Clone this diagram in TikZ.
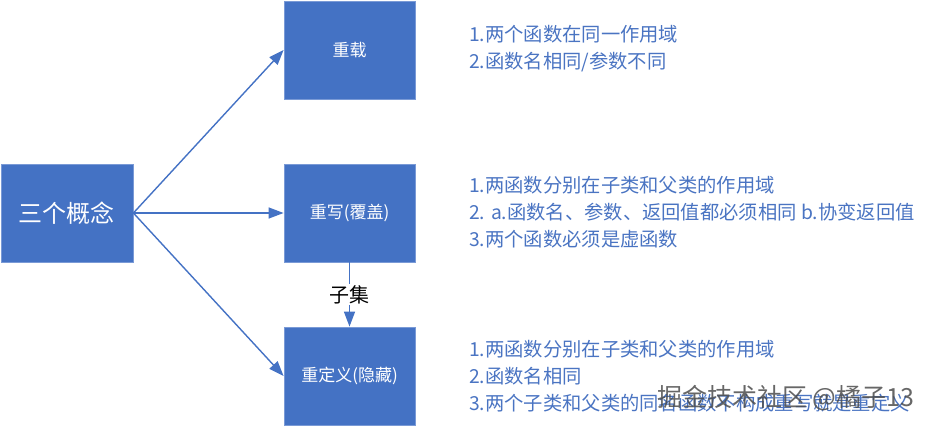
\documentclass[tikz,border=0pt]{standalone}
\usepackage{fontspec}
\setmainfont{Noto Sans CJK SC}
\usepackage{xcolor}
\usetikzlibrary{arrows.meta, positioning}
\definecolor{boxblue}{HTML}{4472C4}
\definecolor{boxedge}{HTML}{7A9AD6}
\definecolor{textblue}{HTML}{4A74C2}
\tikzset{
  concept/.style={fill=boxblue, draw=boxedge, line width=0.8pt, text=white,
    minimum width=131pt, minimum height=98pt, inner sep=0pt},
  link/.style={draw=boxblue, line width=1.4pt, -{Triangle[length=15pt, width=11pt]}},
  notes/.style={anchor=west, text=textblue, align=left, inner sep=0pt,
    font=\fontsize{19.3}{27}\selectfont}
}

\begin{document}
\begin{tikzpicture}[x=1pt, y=-1pt]
  \useasboundingbox (0,0) rectangle (934,426);
  \node[concept, minimum width=132pt, font=\fontsize{24}{26}\selectfont] (0) at (67,213) {三个概念};
  \node[concept, font=\fontsize{17}{20}\selectfont] (1) at (349.5,50) {重载};
  \node[concept, font=\fontsize{17}{20}\selectfont] (2) at (349.5,213) {重写(覆盖)};
  \node[concept, font=\fontsize{17}{20}\selectfont] (3) at (349.5,376) {重定义(隐藏)};
  \draw[link] (0.east) -- (1.west);
  \draw[link] (0.east) -- (2.west);
  \draw[link] (0.east) -- (3.west);
  \draw[link] (2.south) -- node[fill=white, text=black, inner sep=1pt, font=\fontsize{20}{22}\selectfont] {子集} (3.north);
  \node[notes] (n1) at (469,49) {1.两个函数在同一作用域\\2.函数名相同/参数不同};
  \node[notes] (n2) at (469,212) {1.两函数分别在子类和父类的作用域\\2. a.函数名、参数、返回值都必须相同 b.协变返回值\\3.两个函数必须是虚函数};
  \node[notes] (n3) at (469,376) {1.两函数分别在子类和父类的作用域\\2.函数名相同\\3.两个子类和父类的同名函数不构成重写就是重定义};
  \node[anchor=west, text=black!70, opacity=0.85, inner sep=0pt, font=\fontsize{25}{27}\selectfont] (wm) at (657,398) {掘金技术社区 @橘子13};
\end{tikzpicture}
\end{document}
